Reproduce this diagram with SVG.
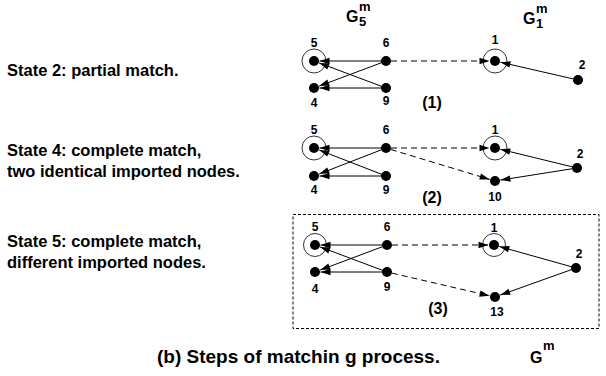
<svg xmlns="http://www.w3.org/2000/svg" width="606" height="376" viewBox="0 0 606 376">
  <style>
    text { font-family: "Liberation Sans", Arial, Helvetica, sans-serif; font-weight: bold; fill: #000; }
    .state { font-size: 16.5px; }
    .lbl { font-size: 12px; text-anchor: middle; }
    .step { font-size: 16px; text-anchor: middle; }
    .gt { font-size: 16px; }
    .gs { font-size: 13px; }
    .cap { font-size: 19px; }
    .dot { fill: #000; }
    .ring { fill: none; stroke: #000; stroke-width: 0.8; }
    .edge { fill: none; stroke: #000; stroke-width: 1; marker-end: url(#ah); }
    .link { fill: none; stroke: #000; stroke-width: 1; stroke-dasharray: 6 4; marker-end: url(#ah); }
    .frame { fill: none; stroke: #000; stroke-width: 1; stroke-dasharray: 3 2; }
  </style>
  <defs>
    <marker id="ah" viewBox="-11 -4 12 8" refX="0" refY="0" markerWidth="12" markerHeight="8" orient="auto" markerUnits="userSpaceOnUse">
      <path d="M0,0 L-10,-3.2 L-10,3.2 Z" fill="#000"/>
    </marker>
  </defs>

  <!-- state descriptions -->
  <g id="states">
    <text class="state" x="7" y="76">State 2: partial match.</text>
    <text class="state" x="7" y="156">State 4: complete match,</text>
    <text class="state" x="7" y="177">two identical imported nodes.</text>
    <text class="state" x="7" y="247">State 5: complete match,</text>
    <text class="state" x="7" y="268">different imported nodes.</text>
  </g>

  <!-- graph titles -->
  <g id="title-g5">
    <text class="gt" x="346" y="22">G</text>
    <text class="gs" x="359" y="11">m</text>
    <text class="gs" x="359" y="26">5</text>
  </g>
  <g id="title-g1">
    <text class="gt" x="523" y="24">G</text>
    <text class="gs" x="536" y="13">m</text>
    <text class="gs" x="536" y="28">1</text>
  </g>

  <!-- merged-graph frame -->
  <rect class="frame" x="293" y="214.5" width="306" height="114"/>

  <!-- connectors -->
  <g id="connectors">
    <!-- step 1 -->
    <line class="edge" x1="386" y1="61" x2="319.5" y2="61"/>
    <line class="edge" x1="386" y1="88" x2="319.1" y2="62.9"/>
    <line class="edge" x1="386" y1="61" x2="319.1" y2="86.1"/>
    <line class="edge" x1="386" y1="88" x2="319.5" y2="88"/>
    <line class="link" x1="391" y1="61" x2="489.5" y2="61"/>
    <line class="edge" x1="578" y1="80" x2="500.4" y2="62.2"/>
    <!-- step 2 -->
    <line class="edge" x1="386" y1="148" x2="319.5" y2="148"/>
    <line class="edge" x1="386" y1="176" x2="319.1" y2="150"/>
    <line class="edge" x1="386" y1="148" x2="319.1" y2="174"/>
    <line class="edge" x1="386" y1="176" x2="319.5" y2="176"/>
    <line class="link" x1="391" y1="148" x2="489.5" y2="148"/>
    <line class="link" x1="390.8" y1="149.5" x2="489.7" y2="179.4"/>
    <line class="edge" x1="577" y1="168" x2="500.3" y2="149.3"/>
    <line class="edge" x1="577" y1="168" x2="500.4" y2="180.1"/>
    <!-- step 3 -->
    <line class="edge" x1="387" y1="245" x2="320.5" y2="245"/>
    <line class="edge" x1="387" y1="272" x2="320.1" y2="246.9"/>
    <line class="edge" x1="387" y1="245" x2="320.1" y2="270.1"/>
    <line class="edge" x1="387" y1="272" x2="320.5" y2="272"/>
    <line class="link" x1="392" y1="245" x2="488.5" y2="245"/>
    <line class="link" x1="391.9" y1="273.1" x2="489.6" y2="295.8"/>
    <line class="edge" x1="576" y1="268" x2="499.3" y2="246.5"/>
    <line class="edge" x1="576" y1="268" x2="500.2" y2="295.1"/>
  </g>

  <!-- step 1 nodes -->
  <g id="s1-n5"><circle class="ring" cx="314" cy="61" r="12"/><circle class="dot" cx="314" cy="61" r="5"/><text class="lbl" x="314" y="47">5</text></g>
  <g id="s1-n6"><circle class="dot" cx="386" cy="61" r="5"/><text class="lbl" x="386" y="47">6</text></g>
  <g id="s1-n4"><circle class="dot" cx="314" cy="88" r="5"/><text class="lbl" x="314" y="107">4</text></g>
  <g id="s1-n9"><circle class="dot" cx="386" cy="88" r="5"/><text class="lbl" x="386" y="105">9</text></g>
  <g id="s1-n1"><circle class="ring" cx="495" cy="61" r="12"/><circle class="dot" cx="495" cy="61" r="5"/><text class="lbl" x="495" y="44">1</text></g>
  <g id="s1-n2"><circle class="dot" cx="578" cy="80" r="5"/><text class="lbl" x="582" y="69">2</text></g>
  <text class="step" x="432" y="108">(1)</text>

  <!-- step 2 nodes -->
  <g id="s2-n5"><circle class="ring" cx="314" cy="148" r="12"/><circle class="dot" cx="314" cy="148" r="5"/><text class="lbl" x="314" y="134">5</text></g>
  <g id="s2-n6"><circle class="dot" cx="386" cy="148" r="5"/><text class="lbl" x="386" y="134">6</text></g>
  <g id="s2-n4"><circle class="dot" cx="314" cy="176" r="5"/><text class="lbl" x="314" y="194">4</text></g>
  <g id="s2-n9"><circle class="dot" cx="386" cy="176" r="5"/><text class="lbl" x="386" y="194">9</text></g>
  <g id="s2-n1"><circle class="ring" cx="495" cy="148" r="12"/><circle class="dot" cx="495" cy="148" r="5"/><text class="lbl" x="495" y="134">1</text></g>
  <g id="s2-n2"><circle class="dot" cx="577" cy="168" r="5"/><text class="lbl" x="580" y="158">2</text></g>
  <g id="s2-n10"><circle class="dot" cx="495" cy="181" r="5"/><text class="lbl" x="495" y="201">10</text></g>
  <text class="step" x="432" y="203">(2)</text>

  <!-- step 3 nodes -->
  <g id="s3-n5"><circle class="ring" cx="315" cy="245" r="11.5"/><circle class="dot" cx="315" cy="245" r="5"/><text class="lbl" x="315" y="231">5</text></g>
  <g id="s3-n6"><circle class="dot" cx="387" cy="245" r="5"/><text class="lbl" x="387" y="231">6</text></g>
  <g id="s3-n4"><circle class="dot" cx="315" cy="272" r="5"/><text class="lbl" x="315" y="293">4</text></g>
  <g id="s3-n9"><circle class="dot" cx="387" cy="272" r="5"/><text class="lbl" x="387" y="291">9</text></g>
  <g id="s3-n1"><circle class="ring" cx="494" cy="245" r="11.5"/><circle class="dot" cx="494" cy="245" r="5"/><text class="lbl" x="494" y="232">1</text></g>
  <g id="s3-n2"><circle class="dot" cx="576" cy="268" r="5"/><text class="lbl" x="579" y="258">2</text></g>
  <g id="s3-n13"><circle class="dot" cx="495" cy="297" r="5"/><text class="lbl" x="497" y="316">13</text></g>
  <text class="step" x="438" y="314">(3)</text>

  <!-- caption -->
  <g id="caption">
    <text class="cap" x="157" y="363">(b) Steps of matchin g process.</text>
    <text class="gt" x="530" y="363">G</text>
    <text class="gs" x="543" y="350">m</text>
  </g>
</svg>
